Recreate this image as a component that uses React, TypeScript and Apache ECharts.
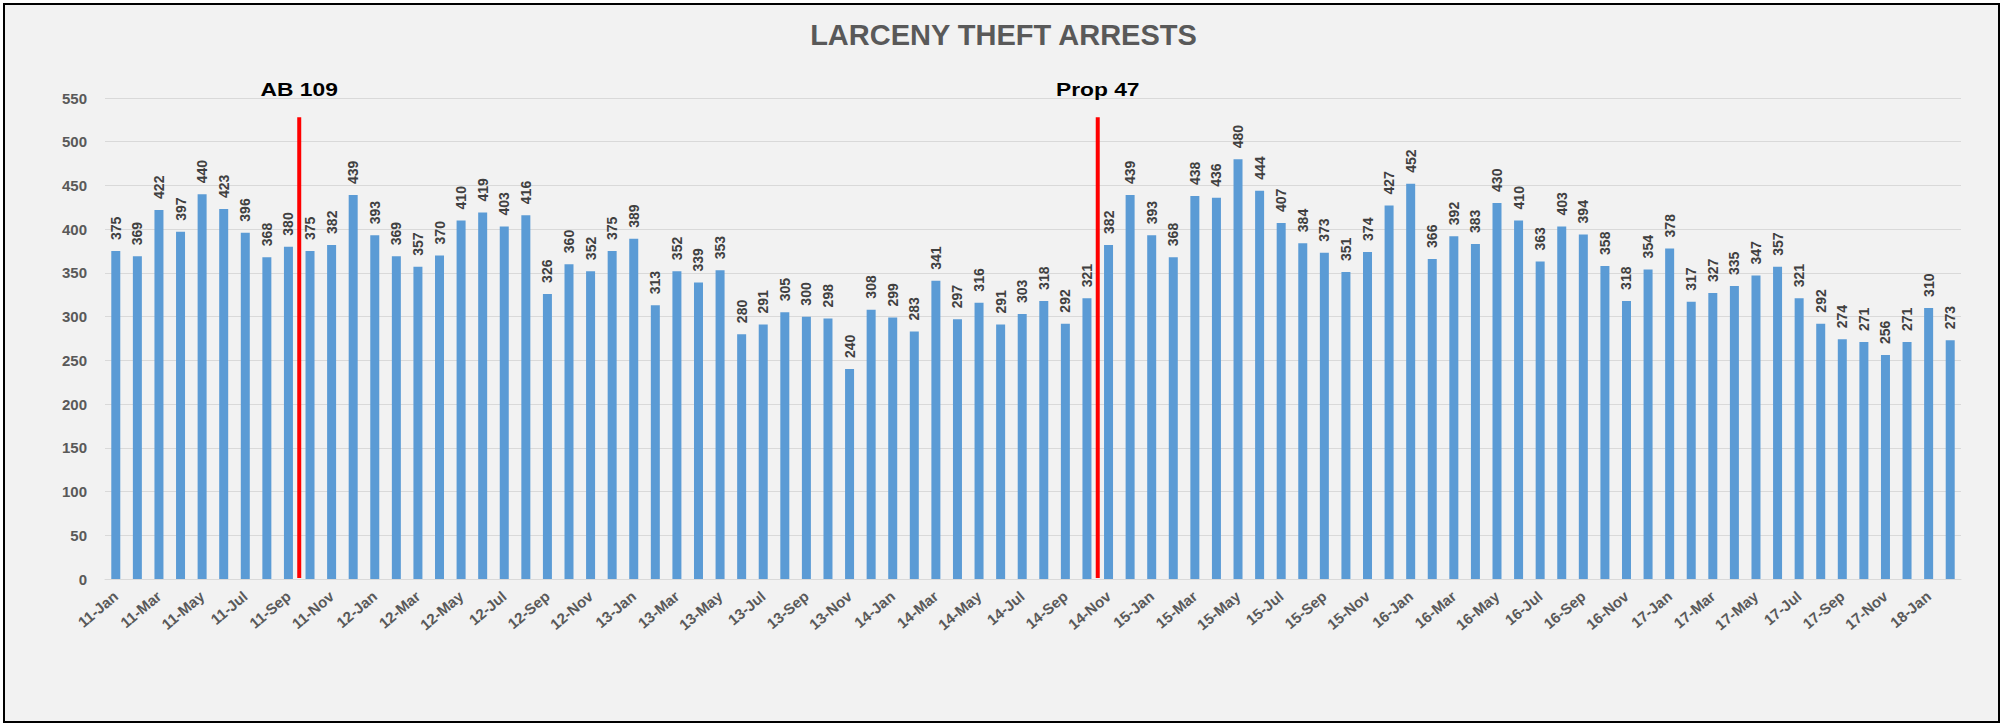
import React, { useEffect, useRef } from "react";
import * as echarts from "echarts";

const categories: string[] = (() => {
  const months = ["Jan", "Feb", "Mar", "Apr", "May", "Jun", "Jul", "Aug", "Sep", "Oct", "Nov", "Dec"];
  const out: string[] = [];
  for (let y = 11; y <= 18; y++) {
    for (let m = 0; m < 12; m++) {
      if (y === 18 && m > 1) break;
      out.push(`${y}-${months[m]}`);
    }
  }
  return out;
})();

const arrests2011 = [375, 369, 422, 397, 440, 423, 396, 368, 380, 375, 382, 439];
const arrests2012 = [393, 369, 357, 370, 410, 419, 403, 416, 326, 360, 352, 375];
const arrests2013 = [389, 313, 352, 339, 353, 280, 291, 305, 300, 298, 240, 308];
const arrests2014 = [299, 283, 341, 297, 316, 291, 303, 318, 292, 321, 382, 439];
const arrests2015 = [393, 368, 438, 436, 480, 444, 407, 384, 373, 351, 374, 427];
const arrests2016 = [452, 366, 392, 383, 430, 410, 363, 403, 394, 358, 318, 354];
const arrests2017 = [378, 317, 327, 335, 347, 357, 321, 292, 274, 271, 256, 271];
const arrests2018 = [310, 273];

const arrests = [
  ...arrests2011, ...arrests2012, ...arrests2013, ...arrests2014,
  ...arrests2015, ...arrests2016, ...arrests2017, ...arrests2018,
];

// Policy markers: drawn after the category index given (between it and the next)
const markerIndex = [8, 45];
const markerTop = [528, 528];
const markerLabelValue = [560, 560];
const markerLabels = ["AB 109", "Prop 47"];

const yTicks = { min: 0, max: 550, interval: 50 };

const FONT = "'Liberation Sans', Arial, sans-serif";

export default function App() {
  const ref = useRef<HTMLDivElement>(null);
  useEffect(() => {
    if (!ref.current) return;
    const chart = echarts.init(ref.current, null, { renderer: "svg" });
    chart.setOption({
      animation: false,
      backgroundColor: "#ffffff",
      textStyle: { fontFamily: FONT },
      graphic: [
        {
          type: "rect",
          z: -10,
          silent: true,
          shape: { x: 4, y: 4, width: 1995, height: 718 },
          style: { fill: "#f2f2f2", stroke: "#000000", lineWidth: 2 },
        },
      ],
      title: {
        text: "LARCENY THEFT ARRESTS",
        left: "center",
        top: 15,
        textStyle: { fontFamily: FONT, fontSize: 29, fontWeight: "bold", color: "#595959" },
      },
      grid: { left: 105, right: 46, top: 98, bottom: 145, containLabel: false },
      xAxis: {
        type: "category",
        data: categories,
        axisLine: { show: true, lineStyle: { color: "#d9d9d9", width: 1 } },
        axisTick: { show: false },
        axisLabel: {
          interval: 1,
          rotate: 40,
          margin: 15,
          fontFamily: FONT,
          fontSize: 15,
          fontWeight: "bold",
          color: "#595959",
        },
      },
      yAxis: {
        type: "value",
        min: yTicks.min,
        max: yTicks.max,
        interval: yTicks.interval,
        axisLine: { show: false },
        axisTick: { show: false },
        splitLine: { lineStyle: { color: "#d9d9d9", width: 1 } },
        axisLabel: {
          margin: 18,
          fontFamily: FONT,
          fontSize: 15,
          fontWeight: "bold",
          color: "#595959",
        },
      },
      series: [
        {
          type: "bar",
          data: arrests,
          barWidth: 9,
          itemStyle: { color: "#5b9bd5" },
          label: {
            show: true,
            position: "top",
            rotate: 90,
            align: "left",
            verticalAlign: "middle",
            distance: 11,
            fontFamily: FONT,
            fontSize: 14,
            fontWeight: "bold",
            color: "#404040",
          },
        },
        {
          type: "custom",
          z: 10,
          data: markerIndex.map((idx, i) => [idx, markerTop[i], markerLabelValue[i], i]),
          renderItem: (params: any, api: any) => {
            const idx = api.value(0);
            const base = api.coord([idx, 0]);
            const top = api.coord([idx, api.value(1)]);
            const lab = api.coord([idx, api.value(2)]);
            const half = api.size([1, 0])[0] / 2;
            const x = base[0] + half;
            const i = api.value(3);
            return {
              type: "group",
              children: [
                {
                  type: "line",
                  shape: { x1: x, y1: base[1] - 1, x2: x, y2: top[1] },
                  style: { stroke: "#ff0000", lineWidth: 4 },
                },
                {
                  type: "text",
                  x: x,
                  y: lab[1],
                  scaleX: 1.2,
                  style: {
                    text: markerLabels[i],
                    fontFamily: FONT,
                    fontSize: 19,
                    fontWeight: "bold",
                    fill: "#000000",
                    align: "center",
                    verticalAlign: "middle",
                  },
                },
              ],
            };
          },
        },
      ],
    });
    return () => chart.dispose();
  }, []);
  return (
    <div
      ref={ref}
      style={{ position: "fixed", left: 0, top: 0, width: 2007, height: 724 }}
    />
  );
}
